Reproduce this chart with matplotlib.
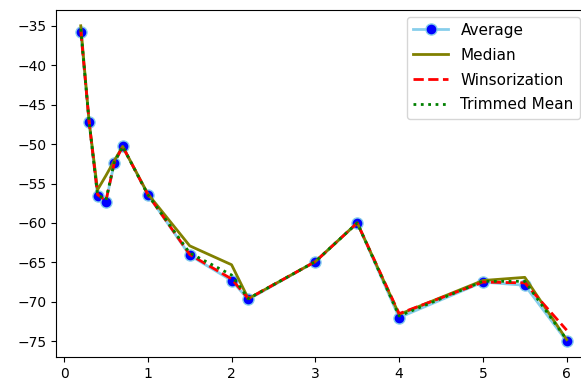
"""
Average vs robust estimators (median, winsorization, trimmed mean)
"""
import matplotlib
matplotlib.use('Agg')
import matplotlib.pyplot as plt

x = [0.2, 0.3, 0.4, 0.5, 0.6, 0.7, 1.0, 1.5, 2.0, 2.2, 3.0, 3.5, 4.0, 5.0, 5.5, 6.0]
average = [-35.8, -47.2, -56.6, -57.3, -52.4, -50.3, -56.4, -64.1, -67.3, -69.7,
           -64.9, -60.0, -72.0, -67.5, -67.9, -75.0]
median = [-35.0, -47.2, -55.8, -54.0, -52.1, -50.3, -56.3, -62.9, -65.3, -69.6,
          -64.9, -60.0, -71.6, -67.3, -66.9, -74.8]
winsorization = [-35.6, -47.2, -56.4, -57.2, -52.4, -50.3, -56.4, -64.0, -67.1, -69.6,
                 -64.9, -60.0, -71.5, -67.5, -67.6, -73.6]
trimmed_mean = [-35.4, -47.2, -56.4, -57.1, -52.3, -50.3, -56.4, -63.8, -66.6, -69.6,
                -64.9, -60.0, -71.8, -67.4, -67.4, -74.8]

fig = plt.figure(figsize=(5.81, 3.85), dpi=100)
ax = fig.add_axes([0.0972, 0.0727, 0.92, 0.9013])

ax.plot(x, average, 'o-', color='skyblue', markerfacecolor='blue',
        markeredgecolor='skyblue', markersize=8, linewidth=2, label='Average')
ax.plot(x, median, '-', color='olive', linewidth=2, label='Median')
ax.plot(x, winsorization, '--', color='red', linewidth=2, label='Winsorization')
ax.plot(x, trimmed_mean, ':', color='green', linewidth=2, label='Trimmed Mean')

ax.set_yticks([-35, -40, -45, -50, -55, -60, -65, -70, -75])
ax.set_xticks([0, 1, 2, 3, 4, 5, 6])
# legend sits against the cropped right edge
ax.legend(loc='upper right', bbox_to_anchor=(0.998, 0.957),
          bbox_transform=fig.transFigure, borderaxespad=0,
          fontsize=11, labelspacing=0.65, handlelength=2.3)

plt.savefig('out.png', dpi=100)
